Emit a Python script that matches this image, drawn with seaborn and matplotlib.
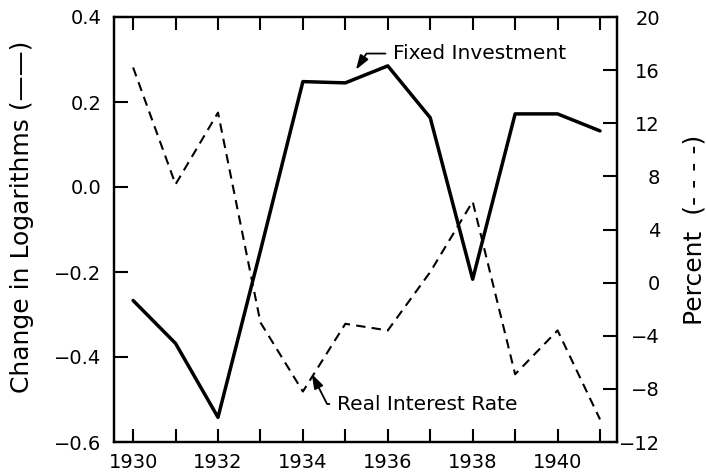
import matplotlib
matplotlib.use("Agg")
import matplotlib.pyplot as plt
import seaborn as sns
import pandas as pd

years = [1930, 1931, 1932, 1933, 1934, 1935, 1936, 1937, 1938, 1939, 1940, 1941]
fixed_investment = [-0.267, -0.368, -0.542, -0.15, 0.248, 0.245, 0.285, 0.163, -0.217, 0.172, 0.172, 0.132]
real_interest_rate = [16.2, 7.4, 12.8, -3.0, -8.2, -3.1, -3.6, 0.8, 6.1, -6.9, -3.6, -10.3]
left_ticks = [-0.6, -0.4, -0.2, 0.0, 0.2, 0.4]
right_ticks = [-12, -8, -4, 0, 4, 8, 12, 16, 20]

sns.set_style("white")
plt.rcParams['font.family'] = ['DejaVu Sans']
plt.rcParams.update({"text.color": "black", "axes.labelcolor": "black",
                     "xtick.color": "black", "ytick.color": "black"})

df = pd.DataFrame({"year": years, "fi": fixed_investment, "rir": real_interest_rate})

fig = plt.figure(figsize=(7.06, 4.76), dpi=100)
ax = fig.add_axes([114/706, 1-442/476, (617-114)/706, (442-17)/476])
ax2 = ax.twinx()

sns.lineplot(data=df, x="year", y="fi", ax=ax, color="black", linewidth=2.5)
sns.lineplot(data=df, x="year", y="rir", ax=ax2, color="black", linewidth=1.5,
             linestyle=(0, (4.5, 3)))

ax.set_xlim(1929.55, 1941.4)
ax.set_ylim(-0.6, 0.4)
ax2.set_ylim(-12, 20)

ax.set_xticks(years)
ax.set_xticklabels([str(y) if y % 2 == 0 else "" for y in years])
ax.set_yticks(left_ticks)
ax.set_yticklabels([f"{v:.1f}".replace("-", "\u2212") for v in left_ticks])
ax2.set_yticks(right_ticks)
ax2.set_yticklabels([str(v).replace("-", "\u2212") for v in right_ticks])

for a in (ax, ax2):
    for s in a.spines.values():
        s.set_linewidth(1.6)
        s.set_color("black")

ax.tick_params(axis="x", direction="in", length=9.5, width=1.5, top=True, bottom=True,
               labelsize=14, pad=8)
ax.tick_params(axis="y", direction="in", length=10, width=1.5, left=True, labelsize=14,
               pad=9)
ax2.tick_params(axis="y", direction="in", length=10, width=1.5, right=True, labelsize=14,
                pad=31)
for t in ax2.get_yticklabels():
    t.set_horizontalalignment("right")

ax.set_xlabel("")
ax.set_ylabel("Change in Logarithms (\u2014\u2014)", fontsize=18)
ax2.set_ylabel("Percent  (- - - -)", fontsize=18)
ax.yaxis.set_label_coords(-0.183, 0.53)
ax2.yaxis.set_label_coords(1.155, 0.5)
ax.yaxis.label.set_verticalalignment("center")
ax2.yaxis.label.set_verticalalignment("center")

ax.annotate("Fixed Investment", xy=(1935.25, 0.276), xytext=(1936.12, 0.314),
            fontsize=14.5, va="center", ha="left",
            arrowprops=dict(arrowstyle="-|>,head_length=0.6,head_width=0.2", color="black", lw=1.3,
                            connectionstyle="angle,angleA=0,angleB=57,rad=0",
                            shrinkA=3, shrinkB=0))
ax2.annotate("Real Interest Rate", xy=(1934.21, -6.88), xytext=(1934.80, -9.14),
             fontsize=14.5, va="center", ha="left",
             arrowprops=dict(arrowstyle="-|>,head_length=0.6,head_width=0.2", color="black", lw=1.3,
                             connectionstyle="angle,angleA=0,angleB=117,rad=0",
                             shrinkA=3, shrinkB=0))

fig.savefig("out.png", dpi=100)
